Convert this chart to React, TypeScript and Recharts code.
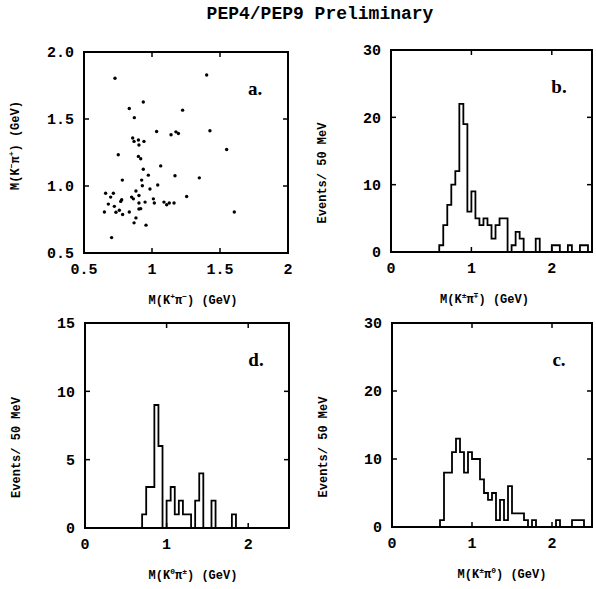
import React from 'react'
import { ComposedChart, Line, Scatter, XAxis, YAxis, ReferenceLine } from 'recharts'

// 50 MeV bins starting at 0 GeV
const BIN_WIDTH = 0.05

const countsB = [
  0, 0, 0, 0, 0, 0, 0, 0, 0, 0,
  0, 0, 1, 4, 7, 10, 12, 22, 19, 6,
  9, 5, 4, 5, 4, 2, 4, 5, 5, 0,
  1, 3, 2, 0, 0, 0, 2, 0, 0, 0,
  1, 1, 0, 0, 1, 0, 0, 1, 1, 0,
]
const countsD = [
  0, 0, 0, 0, 0, 0, 0, 0, 0, 0,
  0, 0, 0, 0, 1, 3, 3, 9, 6, 0,
  2, 3, 1, 2, 1, 1, 0, 2, 4, 0,
  0, 2, 0, 0, 0, 0, 1, 0, 0, 0,
  0, 0, 0, 0, 0, 0, 0, 0, 0, 0,
]
const countsC = [
  0, 0, 0, 0, 0, 0, 0, 0, 0, 0,
  0, 0, 1, 8, 8, 11, 13, 11, 8, 11,
  10, 10, 7, 5, 4, 5, 1, 4, 1, 6,
  2, 2, 2, 1, 0, 1, 0, 0, 0, 0,
  0, 1, 0, 0, 0, 1, 1, 1, 0, 0,
]

// panel a: M(K+pi-) vs M(K-pi+)
const scatterX = [
  0.728, 1.402, 0.936, 0.833, 1.225, 0.870, 1.034, 1.140, 1.176, 1.194,
  1.426, 0.858, 0.868, 0.900, 0.904, 0.941, 1.549, 0.752, 0.900, 0.917,
  1.064, 0.936, 0.973, 1.169, 1.348, 0.782, 0.924, 0.929, 1.042, 0.985,
  0.659, 0.716, 0.696, 0.882, 0.850, 0.863, 0.904, 0.777, 0.770, 0.679,
  0.723, 0.904, 0.949, 1.010, 1.017, 1.088, 1.108, 1.127, 1.162, 1.255,
  0.650, 0.735, 0.760, 0.784, 0.833, 0.904, 0.917, 0.882, 0.868, 0.956,
  1.605, 0.703,
]
const scatterY = [
  1.804, 1.828, 1.627, 1.578, 1.566, 1.510, 1.407, 1.382, 1.404, 1.392,
  1.412, 1.358, 1.333, 1.343, 1.306, 1.333, 1.272, 1.233, 1.221, 1.203,
  1.150, 1.125, 1.081, 1.076, 1.061, 1.044, 1.044, 1.002, 1.007, 0.978,
  0.946, 0.946, 0.917, 0.963, 0.917, 0.904, 0.929, 0.897, 0.885, 0.865,
  0.848, 0.873, 0.880, 0.904, 0.873, 0.880, 0.860, 0.873, 0.873, 0.922,
  0.806, 0.804, 0.819, 0.787, 0.806, 0.828, 0.831, 0.762, 0.725, 0.708,
  0.806, 0.615,
]

const histTicksX = [0, 1, 2]
const scatTicks = [0.5, 1, 1.5, 2]

const toSteps = (counts: number[]) => [
  ...counts.map((n, i) => ({ m: i * BIN_WIDTH, n })),
  { m: counts.length * BIN_WIDTH, n: 0 },
]
const scatterData = scatterX.map((mx, i) => ({ mx, my: scatterY[i] }))

const MONO = '"Liberation Mono", "DejaVu Sans Mono", monospace'
const PAD_L = 84
const PAD_T = 40
const PAD_R = 4
const PAD_B = 60
const TICK_PX = 5

type Seg = { t: string; sup?: boolean }

const SegText = ({ segs, ...rest }: any) => (
  <text fontFamily={MONO} fontWeight={700} fontSize={12} fill="#000" {...rest}>
    {segs.map((s: Seg, i: number) => {
      const prevSup = i > 0 && segs[i - 1].sup
      const dy = s.sup ? -5 : prevSup ? 5 : 0
      return (
        <tspan key={i} dy={dy} fontSize={s.sup ? 8 : 12}>{s.t}</tspan>
      )
    })}
  </text>
)

interface PanelProps {
  x: number
  y: number
  w: number
  h: number
  data: any[]
  xKey: string
  yKey: string
  xDomain: [number, number]
  xTicks: number[]
  yDomain: [number, number]
  yTicks: number[]
  yFmt?: (v: number) => string
  xLabel: Seg[]
  xLabelDx: number
  yLabel: Seg[]
  yLabelDy: number
  tag: string
  children: React.ReactNode
}

function Panel(p: PanelProps) {
  const tick = { fontFamily: MONO, fontWeight: 700, fontSize: 15, fill: '#000' }
  const cx = PAD_L + p.w / 2
  const cy = PAD_T + p.h / 2
  const [x0, x1] = p.xDomain
  const [y0, y1] = p.yDomain
  // inward tick length in data units
  const dx = (TICK_PX * (x1 - x0)) / p.w
  const dy = (TICK_PX * (y1 - y0)) / p.h
  const innerX = p.xTicks.filter((v) => v > x0 && v < x1)
  const innerY = p.yTicks.filter((v) => v > y0 && v < y1)
  const seg = (a: number, b: number, c: number, d: number, k: string) => (
    <ReferenceLine key={k} segment={[{ x: a, y: b }, { x: c, y: d }]}
      stroke="#000" strokeWidth={1.5} ifOverflow="visible" />
  )
  return (
    <>
      <div style={{ position: 'absolute', left: p.x - PAD_L, top: p.y - PAD_T }}>
        <ComposedChart
          width={p.w + PAD_L + PAD_R}
          height={p.h + PAD_T + PAD_B}
          data={p.data}
          margin={{ top: PAD_T, right: PAD_R, bottom: 0, left: 0 }}
        >
          <XAxis
            type="number" dataKey={p.xKey} domain={p.xDomain} ticks={p.xTicks}
            allowDataOverflow height={PAD_B} tickSize={0} tickMargin={10}
            axisLine={{ stroke: '#000', strokeWidth: 2 }} tickLine={false} tick={tick}
            label={() => (
              <g>
                <SegText segs={p.xLabel} x={cx + p.xLabelDx} y={PAD_T + p.h + 51} textAnchor="middle" />
                <text x={PAD_L + p.w - 33} y={PAD_T + 43} textAnchor="middle"
                  fontFamily='"Liberation Serif", serif' fontWeight={700} fontSize={19} fill="#000">
                  {p.tag}
                </text>
              </g>
            )}
          />
          <YAxis
            type="number" dataKey={p.yKey} domain={p.yDomain} ticks={p.yTicks}
            allowDataOverflow width={PAD_L} tickSize={0} tickMargin={10}
            axisLine={{ stroke: '#000', strokeWidth: 2 }} tickLine={false} tick={tick} tickFormatter={p.yFmt}
            label={() => (
              <SegText segs={p.yLabel} x={16} y={cy + p.yLabelDy} textAnchor="middle"
                dominantBaseline="central" transform={`rotate(-90, 16, ${cy + p.yLabelDy})`} />
            )}
          />
          {innerX.map((v) => seg(v, y0, v, y0 + dy, `xb${v}`))}
          {innerX.map((v) => seg(v, y1, v, y1 - dy, `xt${v}`))}
          {innerY.map((v) => seg(x0, v, x0 + dx, v, `yl${v}`))}
          {innerY.map((v) => seg(x1, v, x1 - dx, v, `yr${v}`))}
          {p.children}
        </ComposedChart>
      </div>
      {/* plot frame */}
      <div style={{
        position: 'absolute', left: p.x - 1, top: p.y - 1, width: p.w + 2, height: p.h + 2,
        border: '2px solid #000', boxSizing: 'border-box', pointerEvents: 'none',
      }} />
    </>
  )
}

const eventsLabel: Seg[] = [{ t: 'Events/ 50 MeV' }]

export default function App() {
  const histLine = (
    <Line
      type="stepAfter" dataKey="n" stroke="#000" strokeWidth={1.8}
      dot={false} activeDot={false} isAnimationActive={false}
    />
  )
  return (
    <div style={{ position: 'absolute', left: 0, top: 0, width: 596, height: 589, background: '#fff', overflow: 'hidden' }}>
      <div style={{
        position: 'absolute', left: 0, top: 5, width: 640, textAlign: 'center',
        fontFamily: MONO, fontWeight: 700, fontSize: 18, lineHeight: '18px', color: '#000',
      }}>
        PEP4/PEP9 Preliminary
      </div>

      <Panel
        x={84} y={52} w={204} h={201} data={scatterData} xKey="mx" yKey="my"
        xDomain={[0.5, 2]} xTicks={scatTicks} yDomain={[0.5, 2]} yTicks={scatTicks}
        yFmt={(v) => v.toFixed(1)}
        xLabel={[{ t: 'M(K' }, { t: '+', sup: true }, { t: 'π' }, { t: '−', sup: true }, { t: ') (GeV)' }]}
        xLabelDx={7}
        yLabel={[{ t: 'M(K' }, { t: '−', sup: true }, { t: 'π' }, { t: '+', sup: true }, { t: ') (GeV)' }]}
        yLabelDy={-7}
        tag="a."
      >
        <Scatter
          data={scatterData} fill="#000" isAnimationActive={false}
          shape={(s: any) => <circle cx={s.cx} cy={s.cy} r={1.7} fill="#000" />}
        />
      </Panel>

      <Panel
        x={391} y={50} w={201} h={202} data={toSteps(countsB)} xKey="m" yKey="n"
        xDomain={[0, 2.5]} xTicks={histTicksX} yDomain={[0, 30]} yTicks={[0, 10, 20, 30]}
        xLabel={[{ t: 'M(K' }, { t: '±', sup: true }, { t: 'π' }, { t: '∓', sup: true }, { t: ') (GeV)' }]}
        xLabelDx={-7}
        yLabel={eventsLabel} yLabelDy={22} tag="b."
      >
        {histLine}
      </Panel>

      <Panel
        x={85} y={323} w={204} h={205} data={toSteps(countsD)} xKey="m" yKey="n"
        xDomain={[0, 2.5]} xTicks={histTicksX} yDomain={[0, 15]} yTicks={[0, 5, 10, 15]}
        xLabel={[{ t: 'M(K' }, { t: '0', sup: true }, { t: 'π' }, { t: '±', sup: true }, { t: ') (GeV)' }]}
        xLabelDx={6}
        yLabel={eventsLabel} yLabelDy={22} tag="d."
      >
        {histLine}
      </Panel>

      <Panel
        x={392} y={323} w={200} h={204} data={toSteps(countsC)} xKey="m" yKey="n"
        xDomain={[0, 2.5]} xTicks={histTicksX} yDomain={[0, 30]} yTicks={[0, 10, 20, 30]}
        xLabel={[{ t: 'M(K' }, { t: '±', sup: true }, { t: 'π' }, { t: '0', sup: true }, { t: ') (GeV)' }]}
        xLabelDx={10}
        yLabel={eventsLabel} yLabelDy={22} tag="c."
      >
        {histLine}
      </Panel>
    </div>
  )
}
